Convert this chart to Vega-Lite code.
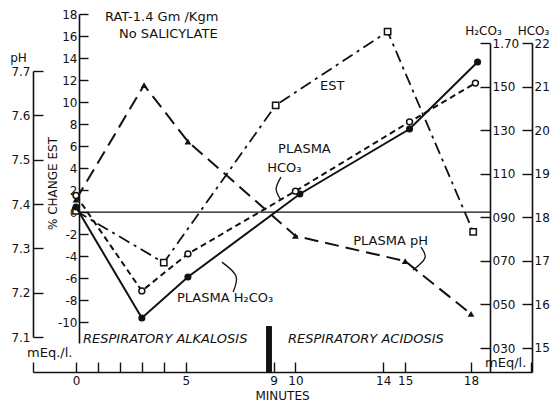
{
 "$schema": "https://vega.github.io/schema/vega-lite/v6.json",
 "width": 499, "height": 358,
 "autosize": "none",
 "padding": {"left": 33, "top": 14, "right": 21, "bottom": 29},
 "background": "white",
 "config": {
  "view": {"stroke": null},
  "font": "DejaVu Sans",
  "axis": {"domainColor": "#111", "tickColor": "#111", "labelColor": "#111", "titleColor": "#111", "domainWidth": 1.6, "tickWidth": 1.4, "labelFont": "DejaVu Sans", "labelFontSize": 12, "titleFont": "DejaVu Sans", "titleFontWeight": "normal", "titleFontSize": 12, "grid": false, "labelFlush": false, "labelOverlap": false},
  "text": {"color": "#111", "font": "DejaVu Sans"}
 },
 "datasets": {
  "est": [{"t": 0, "v": 0.1}, {"t": 4, "v": -4.6}, {"t": 9.1, "v": 9.7}, {"t": 14.2, "v": 16.4}, {"t": 18.1, "v": -1.8}],
  "ph": [{"t": 0, "v": 7.41}, {"t": 3.1, "v": 7.668}, {"t": 5.1, "v": 7.541}, {"t": 10, "v": 7.328}, {"t": 15, "v": 7.271}, {"t": 18, "v": 7.152}],
  "h2co3": [{"t": 0, "v": 0.947}, {"t": 3, "v": 0.438}, {"t": 5.1, "v": 0.626}, {"t": 10.2, "v": 1.007}, {"t": 15.2, "v": 1.305}, {"t": 18.3, "v": 1.613}],
  "hco3": [{"t": 0, "v": 18.5}, {"t": 3, "v": 16.31}, {"t": 5.1, "v": 17.16}, {"t": 10, "v": 18.6}, {"t": 15.2, "v": 20.19}, {"t": 18.2, "v": 21.08}],
  "zero": [{"t": 0.14, "t2": 18.87, "v": 0}],
  "bar": [{"t": 8.66, "t2": 8.93, "v": -10.36, "v2": -14.55}],
  "arrows": [
   {"id": "a", "i": 1, "t": 7.16, "v": -7.27}, {"id": "a", "i": 2, "t": 7.29, "v": -5.82}, {"id": "a", "i": 3, "t": 6.65, "v": -4.55},
   {"id": "b", "i": 1, "t": 15.72, "v": -3.18}, {"id": "b", "i": 2, "t": 15.9, "v": -4.18}, {"id": "b", "i": 3, "t": 15.36, "v": -5.27},
   {"id": "c", "i": 1, "t": 9.34, "v": 3.18}, {"id": "c", "i": 2, "t": 9.12, "v": 2.09}, {"id": "c", "i": 3, "t": 9.34, "v": 1.09}
  ],
  "notes": [
   {"t": 1.32, "v": 17.73, "label": "RAT-1.4 Gm /Kgm"},
   {"t": 1.96, "v": 16.18, "label": "No SALICYLATE"},
   {"t": 4.6, "v": -7.82, "label": "PLASMA H₂CO₃"},
   {"t": 12.63, "v": -2.64, "label": "PLASMA pH"},
   {"t": 9.21, "v": 5.73, "label": "PLASMA"},
   {"t": 8.71, "v": 4.0, "label": "HCO₃"},
   {"t": 11.12, "v": 11.45, "label": "EST"},
   {"t": -2.23, "v": -12.8, "label": "mEq./l."},
   {"t": 18.64, "v": -13.7, "label": "mEq/l."}
  ],
  "phases": [
   {"t": 0.32, "v": -11.55, "label": "RESPIRATORY ALKALOSIS"},
   {"t": 9.66, "v": -11.55, "label": "RESPIRATORY ACIDOSIS"}
  ]
 },
 "encoding": {
  "x": {"field": "t", "type": "quantitative",
   "scale": {"domain": [-1.96, 20.78], "nice": false, "zero": false},
   "axis": {"values": [-1.95, 0, 1, 2, 3, 4, 5, 9, 10, 14, 15, 18, 20.75],
    "labelExpr": "indexof([0,5,9,10,14,15,18], datum.value) >= 0 ? '' + datum.value : ''",
    "tickSize": -10, "labelPadding": 13, "title": "MINUTES", "titleX": 249, "titleY": 23, "titleAlign": "center", "titleBaseline": "middle"}}
 },
 "layer": [
  {
   "encoding": {"y": {"field": "v", "type": "quantitative",
    "scale": {"domain": [-11.9, 18], "range": [329, 0], "nice": false, "zero": false},
    "axis": {"orient": "left", "offset": -46, "values": [-10, -8, -6, -4, -2, 0, 2, 4, 6, 8, 10, 12, 14, 16, 18],
     "tickSize": -9, "labelPadding": 11, "labelExpr": "'' + datum.value",
     "title": "% CHANGE EST", "titleAngle": 270, "titleX": -27, "titleY": 169, "titleAlign": "center", "titleBaseline": "middle"}}},
   "layer": [
    {"data": {"name": "zero"}, "mark": {"type": "rule", "strokeWidth": 1.3, "color": "#111"}, "encoding": {"x2": {"field": "t2"}}},
    {"data": {"name": "est"}, "mark": {"type": "line", "strokeDash": [12, 5, 3, 5], "strokeWidth": 1.8, "color": "#111"}},
    {"data": {"name": "est"}, "mark": {"type": "point", "shape": "square", "size": 40, "filled": true, "fill": "white", "stroke": "#111", "strokeWidth": 1.5, "opacity": 1}},
    {"data": {"name": "bar"}, "mark": {"type": "rect", "color": "#111"}, "encoding": {"x2": {"field": "t2"}, "y2": {"field": "v2"}}},
    {"data": {"name": "arrows"}, "mark": {"type": "line", "interpolate": "cardinal", "strokeWidth": 1.3, "color": "#111"}, "encoding": {"detail": {"field": "id"}, "order": {"field": "i"}}},
    {"data": {"name": "notes"}, "mark": {"type": "text", "align": "left", "baseline": "middle", "fontSize": 13}, "encoding": {"text": {"field": "label"}}},
    {"data": {"name": "phases"}, "mark": {"type": "text", "align": "left", "baseline": "middle", "fontSize": 13, "fontStyle": "italic"}, "encoding": {"text": {"field": "label"}}}
   ]
  },
  {
   "encoding": {"y": {"field": "v", "type": "quantitative",
    "scale": {"domain": [7.1, 7.7], "range": [323, 57], "nice": false, "zero": false},
    "axis": {"orient": "left", "offset": 0, "values": [7.1, 7.2, 7.3, 7.4, 7.5, 7.6, 7.7], "format": ".1f",
     "tickSize": -10, "labelPadding": 13,
     "title": "pH", "titleAngle": 0, "titleX": -15, "titleY": 43, "titleAlign": "center", "titleBaseline": "middle"}}},
   "layer": [
    {"data": {"name": "ph"}, "mark": {"type": "line", "strokeDash": [14, 7], "strokeWidth": 2, "color": "#111"}},
    {"data": {"name": "ph"}, "mark": {"type": "point", "shape": "triangle-up", "size": 45, "filled": true, "color": "#111", "opacity": 1}}
   ]
  },
  {
   "encoding": {"y": {"field": "v", "type": "quantitative",
    "scale": {"domain": [0.19, 1.7], "range": [358, 29], "nice": false, "zero": false},
    "axis": {"orient": "right", "offset": -42, "values": [0.3, 0.5, 0.7, 0.9, 1.1, 1.3, 1.5, 1.7],
     "labelExpr": "datum.value > 1.65 ? '1.70' : replace(format(datum.value, '.2f'), '.', '')",
     "tickSize": -10, "labelPadding": 12,
     "title": "H₂CO₃", "titleAngle": 0, "titleX": -7, "titleY": 16, "titleAlign": "center", "titleBaseline": "middle"}}},
   "layer": [
    {"data": {"name": "h2co3"}, "mark": {"type": "line", "strokeWidth": 2, "color": "#111"}},
    {"data": {"name": "h2co3"}, "mark": {"type": "point", "shape": "circle", "size": 50, "filled": true, "color": "#111", "opacity": 1}}
   ]
  },
  {
   "encoding": {"y": {"field": "v", "type": "quantitative",
    "scale": {"domain": [14.449, 22], "range": [358, 29], "nice": false, "zero": false},
    "axis": {"orient": "right", "offset": 0, "values": [15, 16, 17, 18, 19, 20, 21, 22],
     "tickSize": -10, "labelPadding": 12,
     "title": "HCO₃", "titleAngle": 0, "titleX": 1, "titleY": 16, "titleAlign": "center", "titleBaseline": "middle"}}},
   "layer": [
    {"data": {"name": "hco3"}, "mark": {"type": "line", "strokeDash": [6, 4], "strokeWidth": 2, "color": "#111"}},
    {"data": {"name": "hco3"}, "mark": {"type": "point", "shape": "circle", "size": 35, "filled": true, "fill": "white", "stroke": "#111", "strokeWidth": 1.5, "opacity": 1}}
   ]
  }
 ],
 "resolve": {"scale": {"y": "independent"}}
}
